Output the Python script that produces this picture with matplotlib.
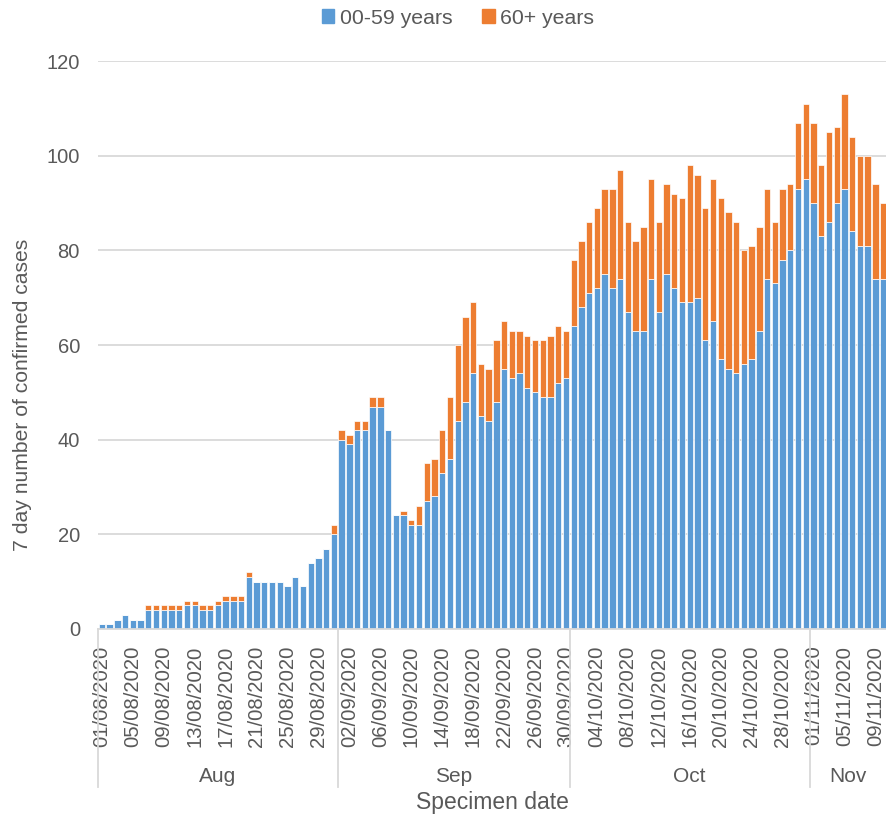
import numpy as np
import pandas as pd
import matplotlib
matplotlib.use("Agg")
import matplotlib.pyplot as plt
from matplotlib.patches import Patch

plt.rcParams['font.family'] = ['Liberation Sans', 'DejaVu Sans']

# 7 day counts by specimen date, 01/08/2020 - 10/11/2020
start_date = "2020-08-01"
end_date = "2020-11-10"

under60 = [1, 1, 2, 3, 2, 2, 4, 4, 4, 4, 4, 5, 5, 4, 4, 5, 6, 6, 6, 11,
           10, 10, 10, 10, 9, 11, 9, 14, 15, 17, 20,
           40, 39, 42, 42, 47, 47, 42, 24, 24, 22, 22, 27, 28, 33, 36, 44, 48, 54, 45,
           44, 48, 55, 53, 54, 51, 50, 49, 49, 52, 53,
           64, 68, 71, 72, 75, 72, 74, 67, 63, 63, 74, 67, 75, 72, 69, 69, 70, 61, 65, 57,
           55, 54, 56, 57, 63, 74, 73, 78, 80, 93, 95,
           90, 83, 86, 90, 93, 84, 81, 81, 74, 74]
over60 = [0, 0, 0, 0, 0, 0, 1, 1, 1, 1, 1, 1, 1, 1, 1, 1, 1, 1, 1, 1,
          0, 0, 0, 0, 0, 0, 0, 0, 0, 0, 2,
          2, 2, 2, 2, 2, 2, 0, 0, 1, 1, 4, 8, 8, 9, 13, 16, 18, 15, 11,
          11, 13, 10, 10, 9, 11, 11, 12, 13, 12, 10,
          14, 14, 15, 17, 18, 21, 23, 19, 19, 22, 21, 19, 19, 20, 22, 29, 26, 28, 30, 34,
          33, 32, 24, 24, 22, 19, 13, 15, 14, 14, 16,
          17, 15, 19, 16, 20, 20, 19, 19, 20, 16]

months = ["Aug", "Sep", "Oct", "Nov"]
series_names = ["00-59 years", "60+ years"]
yticks = [0, 20, 40, 60, 80, 100, 120]

BLUE = "#5B9BD5"
ORANGE = "#ED7D31"
TXT = "#595959"
GRID = "#D9D9D9"

dates = pd.date_range(start_date, end_date, freq="D")
x = np.arange(len(dates))
under60 = np.array(under60)
over60 = np.array(over60)

fig = plt.figure(figsize=(8.87, 8.21), dpi=100)
ax = fig.add_axes([98 / 887, 1 - 629 / 821, 789 / 887, 568 / 821])

ax.bar(x, under60, width=0.82, color=BLUE, edgecolor="white", linewidth=0.5, zorder=2)
ax.bar(x, over60, bottom=under60, width=0.82, color=ORANGE, edgecolor="white", linewidth=0.5, zorder=2)

ax.set_xlim(-0.5, len(x) - 0.5)
ax.set_ylim(0, 120)
ax.set_yticks(yticks)
ax.yaxis.grid(True, color=GRID, linewidth=1.3, zorder=0)
ax.set_axisbelow(True)
for s in ["top", "right", "left"]:
    ax.spines[s].set_visible(False)
ax.spines["bottom"].set_color(GRID)
ax.spines["bottom"].set_linewidth(1.3)

tick_idx = x[::4]
ax.set_xticks(tick_idx)
ax.set_xticklabels([dates[i].strftime("%d/%m/%Y") for i in tick_idx], rotation=90, fontsize=14.6)
ax.tick_params(axis="x", length=0, pad=12, colors=TXT)
ax.tick_params(axis="y", length=0, pad=13, colors=TXT, labelsize=14.5)

# month groups under the date labels
tr = ax.get_xaxis_transform()
month_codes = dates.month.values
bounds = [-0.5]
for m in np.unique(month_codes):
    bounds.append(x[month_codes == m][-1] + 0.5)
for b in bounds[:-1]:
    ax.plot([b, b], [0, -0.278], color=GRID, linewidth=1.3, transform=tr, clip_on=False)
for name, lo, hi in zip(months, bounds[:-1], bounds[1:]):
    ax.text((lo + hi) / 2, -0.259, name, transform=tr, ha="center", va="center",
            fontsize=15, color=TXT)

fig.text(492 / 887, 1 - 802 / 821, "Specimen date", ha="center", va="center",
         fontsize=16.5, color=TXT)
fig.text(23 / 887, 1 - 395 / 821, "7 day number of confirmed cases", rotation=90,
         ha="center", va="center", fontsize=15.2, color=TXT)

handles = [Patch(color=BLUE), Patch(color=ORANGE)]
fig.legend(handles, series_names, loc="center", bbox_to_anchor=(458 / 887, 1 - 18 / 821),
           ncol=2, frameon=False, fontsize=15.3, handlelength=0.6, handleheight=0.6,
           handletextpad=0.25, columnspacing=1.4, labelcolor=TXT)

fig.savefig("out.png", dpi=100)
